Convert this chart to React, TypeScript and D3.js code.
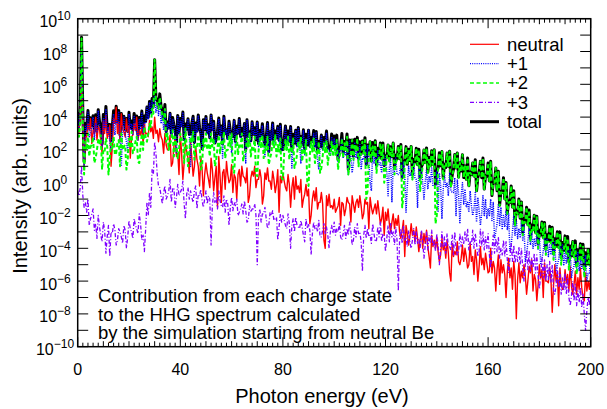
import React from 'react';
import * as d3 from 'd3';

const W = 607;
const H = 409;
const M = { left: 77.7, right: 590.7, top: 18.7, bottom: 346.7 };

// photon energy grids (eV): integer and half-integer samples
const energyInt = d3.range(0, 201, 1);
const energyHalf = d3.range(0.5, 200, 1);

// log10 intensities, at integer eV
const neutralInt = [
  3.5, 4.2, 3.8, 2.8, 3.6, 3.9, 3.2, 4.0, 3.4, 2.6, 3.8, 4.1, 3.0, 1.0, 3.9, 4.6, 3.7, 4.2, 3.1, 3.9, 3.5, 2.8, 3.6, 4.0, 3.2, 3.4,
  3.6, 3.0, 3.8, 3.4, 4.0, 3.2, 3.3, 2.6, 3.0, 2.0,
  2.9, 1.2, 2.7, 1.8, 3.0, 0.2, 2.4, 1.5, 2.5, 0.4, 2.2, 1.0, 1.6, -0.8, 1.2,
  0.2, 1.5, -0.5, 1.0, 1.6, -1.2, 0.8, 1.3, 0.0, 1.1, 0.5, -1.0, 0.8, 1.0, 0.3, 0.9, -0.8, 0.7, 1.0, 0.2, 0.8, -1.3, 0.6, 0.9, 0.1, 0.7, -0.6, 0.8, 0.4, 0.6, -0.3, 0.5, -1.5, 0.3, 0.4,
  -0.2, 0.2, -1.0, -0.1, -0.4, -2.0, -0.5, -0.3, -1.2, -0.6, -3.5, -0.8, -0.7, -1.4, -1.0,
  -1.6, -0.9, -1.2, -2.0, -0.9, -1.3, -0.8, -1.8, -1.0, -0.8, -2.2, -1.0, -1.2, -0.9, -1.9, -1.3, -1.1, -2.5, -1.5, -1.8,
  -1.6, -3.0, -1.9, -2.2, -2.0, -3.4, -2.3, -2.6, -3.8, -2.5, -2.9, -2.7, -4.2, -3.0, -3.1, -2.9, -4.5, -3.2, -3.5, -3.3,
  -4.8, -3.4, -3.8, -3.5, -5.5, -3.7, -4.2, -3.6, -5.0, -3.8,
  -4.0, -5.2, -3.7, -4.5, -4.1, -6.0, -3.9, -4.6, -4.3, -5.5, -4.0, -4.8, -6.6, -4.4, -4.7, -5.0, -7.0, -4.6, -5.2, -4.8,
  -8.3, -4.9, -5.4, -5.0, -6.8, -5.1, -4.7, -5.6, -7.2, -5.0, -5.3, -4.9, -6.0, -5.2, -7.9, -5.0, -5.5, -5.2, -6.5, -5.3,
  -5.6, -5.1, -6.8, -5.4, -5.8, -5.2, -7.0, -5.5, -6.0, -5.6,
];
// at half-integer eV
const neutralHalf = [
  3.0, 6.5,
  0.8, 2.8, 3.2, 2.4, 3.0, 2.6, 3.3, 1.8, 3.0, 2.7, 3.5, 2.2, 3.6, 3.0, 2.5, 3.3, 2.8, 3.1, 1.5, 2.9, 3.2, 2.6, 2.9, 2.4, 3.0, 2.8, 3.1, 2.7,
  3.0, 2.5, 2.8, 1.8, 2.3, 2.0, 1.0, 2.2, 1.6, 0.5, 1.8, 1.2, 1.9, 0.6, 1.5, 1.0, 1.4, -0.2, 0.8, 0.5,
  0.6, -0.3, 0.8, 0.3, -1.5, 0.4, 0.6, -0.4, 0.5, 0.2, -0.6, 0.3, 0.5, -0.2, 0.4, 0.0, -1.2, 0.3, 0.4, -0.3,
  0.2, 0.3, -0.8, 0.2, 0.1, -0.4, 0.2, -0.1, -1.8, 0.0, 0.1, -0.5, -0.1, -0.3, -1.0, -0.4, -0.6, -1.5, -0.7, -0.8,
  -2.5, -1.0, -1.1, -1.6, -1.2, -1.3, -4.0, -1.4, -1.5, -1.6,
  -1.8, -1.4, -2.6, -1.3, -1.6, -1.2, -2.4, -1.3, -1.2, -1.5, -1.4, -1.9, -1.3, -2.8, -1.5, -1.6, -1.9, -1.8, -2.2, -3.2,
  -2.3, -2.5, -2.4, -2.8, -2.6, -3.0, -2.9, -4.5, -3.1, -3.3, -3.2, -3.6, -3.4, -3.5, -4.0, -3.7, -3.9, -5.2, -3.9, -4.0,
  -4.2, -4.4, -4.1, -4.6, -4.3, -6.0, -4.5, -4.4, -4.8, -4.6,
  -4.8, -4.5, -5.0, -4.8, -5.6, -4.7, -5.1, -5.0, -5.3, -4.9, -5.4, -5.5, -5.2, -5.3, -6.2, -5.5, -5.6, -5.4, -5.8, -6.5,
  -5.6, -5.9, -6.1, -5.8, -5.7, -6.0, -5.5, -6.6, -5.9, -6.2, -5.8, -7.0, -6.0, -6.1, -5.9, -6.3, -6.0, -7.5, -6.2, -6.4,
  -6.1, -6.6, -6.3, -6.2, -6.8, -6.5, -6.4, -7.2, -6.6, -6.5,
];

const plus1Int = [
  4.2, 4.5, 4.1, 3.5, 4.3, 3.0, 4.0, 3.6, 4.4, 3.2, 3.9, 4.5, 3.4, 2.0, 4.2, 3.8, 4.3, 1.0, 4.0, 2.5, 4.2, 3.6, 4.1, 3.0, 3.9,
  4.3, 3.7, 4.6, 4.9, 5.0, 5.3, 4.8, 5.0, 4.2, 4.4,
  3.6, 4.2, 3.9, 2.5, 4.1, 3.8, 4.3, 3.2, 3.9, 1.0, 4.0, 3.6, 4.1, 3.0, 3.8, 4.0,
  3.5, 4.1, 3.7, 2.6, 3.9, 3.4, 4.0, 3.2, 3.7, 1.8, 3.8, 3.3, 3.9, 3.0, 3.6, 3.8, 2.4, 3.7, 3.2, 3.7,
  3.0, 3.5, 1.6, 3.6, 3.1, 3.6, 2.8, 3.4, 3.5, 2.0, 3.4, 2.9, 3.4, 2.6, 3.2, 3.3, 1.2, 3.2, 2.7, 3.2,
  2.4, 3.0, 3.1, 0.8, 2.9, 2.5, 3.0, 2.0, 2.8, 2.7,
  2.6, 2.0, 2.7, 1.9, 2.5, 2.6, 0.6, 2.4, 1.9, 2.4, 1.5, 2.2, 2.3, 0.0, 2.1, 1.6, 2.0, 1.2, 1.8, 1.6,
  -0.8, 1.5, 1.0, 1.5, 0.5, 1.2, 1.3, -1.8, 1.0, 0.6, 1.2, 0.2, 1.0, 0.9, -1.0, 0.8, 0.4, 0.9, -0.2, 0.7,
  0.6, -2.2, 0.5, 0.0, 0.6, -0.6, 0.3, 0.2, -2.5, 0.0,
  -0.4, -1.2, -0.5, -2.0, -0.6, -0.9, -2.6, -0.8, -1.0, -1.6, -1.0, -1.2, -3.0, -1.3, -1.5, -2.0, -1.7, -1.9, -3.8, -2.0,
  -2.3, -2.8, -2.4, -2.6, -4.5, -2.8, -3.0, -3.4, -3.0, -3.2, -4.6, -3.3, -3.4, -3.8, -3.5, -3.6, -5.0, -3.7, -3.8, -4.2,
  -3.9, -4.0, -5.3, -4.1, -4.2, -4.6, -4.3, -4.4, -5.5, -4.5,
];
const plus1Half = [
  3.3, 8.0,
  1.0, 3.2, 2.8, 3.4, 2.6, 3.1, 3.5, 2.2, 3.3, 3.0, 2.5, 3.4, 2.9, 3.6, 2.7, 3.2, 3.0, 1.8, 3.3, 2.9, 3.5, 2.6, 3.3, 3.0, 3.6, 3.9, 4.2, 4.5,
  4.3, 4.1, 3.6, 3.2, 2.9, 3.3, 2.8, 3.5, 1.8, 3.0, 3.4, 2.6, 3.2, 2.9, 3.6, 2.4, 3.1, 3.3, 2.0, 3.2,
  3.0, 2.7, 3.2, 2.4, 3.1, 2.9, 1.5, 3.0, 2.6, 3.1, 2.8, 2.3, 3.0, 2.7, 2.9, 1.2, 2.8, 2.5, 2.9, 2.6,
  2.2, 2.8, 2.6, 2.7, 1.8, 2.6, 2.4, 2.7, 2.5, 2.0, 2.6, 2.3, 2.5, 0.9, 2.4, 2.2, 2.5, 2.3, 1.7, 2.3,
  2.1, 2.4, 2.2, 1.4, 2.2, 2.0, 2.3, 2.1, 1.6, 2.0,
  1.8, 1.3, 1.9, 1.5, 1.7, 0.5, 1.6, 1.2, 1.5, 1.3, 0.8, 1.4, 1.1, 1.3, -0.5, 1.2, 0.9, 1.1, 0.6, 1.0,
  0.7, 0.9, -1.2, 0.7, 0.5, 0.6, 0.3, 0.5, -0.2, 0.4, 0.2, 0.3, -1.5, 0.2, 0.0, 0.1, -0.4, 0.0, -0.2, -0.1,
  -1.8, -0.2, -0.4, -0.3, -0.8, -0.5, -0.6, -2.0, -0.7, -0.8,
  -1.3, -1.5, -1.8, -1.4, -1.6, -2.4, -1.7, -1.9, -2.0, -2.2, -2.0, -2.3, -3.4, -2.5, -2.6, -2.8, -2.7, -2.9, -4.2, -3.0,
  -3.2, -3.4, -3.3, -3.5, -4.8, -3.6, -3.8, -4.0, -3.9, -4.1, -5.0, -4.2, -4.3, -4.5, -4.4, -4.6, -5.4, -4.7, -4.8, -5.0,
  -4.9, -5.0, -5.8, -5.1, -5.2, -5.4, -5.3, -5.4, -6.0, -5.5,
];

const plus2Int = [
  3.3, 3.6, 3.2, 2.5, 3.0, 2.2, 2.8, 1.5, 2.6, 2.9, 2.0, 2.7, 0.5, 2.4, 2.8, 1.8, 2.6, 3.0, 2.2, 0.8, 2.7, 3.1, 2.0, 2.8, 1.2,
  3.0, 3.4, 2.5, 3.6, 4.5, 7.5, 4.8, 5.2, 4.0, 4.5,
  3.0, 2.4, 3.2, 2.8, 1.5, 3.0, 2.6, 3.3, 1.0, 2.8, 3.1, 2.2, 2.9, 0.8, 2.7, 3.0,
  2.4, 3.0, 2.7, 1.4, 2.9, 2.5, 3.1, 2.0, 2.8, 3.0, 0.6, 2.9, 2.4, 3.0, 1.8, 2.7, 3.0, 2.2, 2.8, 0.4,
  2.7, 2.9, 2.2, 2.8, 1.5, 2.6, 2.9, 2.3, 2.7, 0.2, 2.6, 2.8, 2.1, 2.7, 1.2, 2.5, 2.8, 2.0, 2.6, -0.2,
  2.5, 2.7, 1.9, 2.5, 0.9, 2.4, 2.6, 1.8, 2.5, 2.3,
  2.6, 1.5, 2.7, 2.4, 2.8, 1.0, 2.6, 2.3, 2.7, 1.8, 2.5, 2.6, -0.5, 2.5, 2.2, 2.5, 1.4, 2.4, 2.3, 0.6,
  2.3, 2.1, 2.4, 1.2, 2.2, 2.3, -0.8, 2.2, 2.0, 2.2, 1.0, 2.1, 2.0, 0.2, 2.0, 2.1, 1.5, 1.9, 2.0, -2.0,
  1.8, 1.9, 1.0, 1.8, 1.9, 0.4, 1.7, 1.8, 1.2, 1.7,
  1.0, 1.5, 0.6, 1.2, 1.4, 0.3, 1.3, 1.5, 0.4, 1.2, 1.3, 0.0, 0.9, 0.7, -0.6, 0.3, 0.0, -1.2, -0.2, -0.5,
  -1.8, -1.0, -1.2, -2.4, -1.5, -1.7, -2.8, -2.0, -2.1, -3.2, -2.4, -2.5, -3.6, -2.7, -2.8, -3.9, -3.0, -3.1, -4.2, -3.3,
  -3.4, -4.5, -3.6, -3.7, -4.8, -3.8, -3.9, -5.0, -4.1, -4.2,
];
const plus2Half = [
  2.8, 8.8,
  0.5, 2.0, 1.6, 2.3, 1.2, 2.0, 2.4, 0.8, 1.9, 2.2, 1.5, 2.1, 1.7, 2.4, 1.0, 2.0, 2.3, 1.4, 2.1, 1.8, 2.5, 1.3, 2.2, 2.0, 2.7, 3.0, 3.4, 4.2,
  5.0, 4.5, 4.6, 3.8, 2.5, 2.0, 2.6, 1.6, 2.3, 2.0, 2.6, 1.2, 2.2, 1.9, 2.5, 1.4, 2.1, 2.4, 1.0, 2.2,
  2.0, 1.6, 2.2, 1.0, 2.1, 1.8, 2.3, 1.5, 2.0, 2.2, 0.8, 2.1, 1.7, 2.2, 1.3, 1.9, 2.2, 1.6, 2.0, 0.5,
  1.9, 2.1, 1.5, 2.0, 1.1, 1.8, 2.1, 1.6, 1.9, 0.3, 1.8, 2.0, 1.4, 1.9, 0.9, 1.7, 2.0, 1.3, 1.8, 0.0,
  1.7, 1.9, 1.2, 1.7, 0.6, 1.6, 1.8, 1.1, 1.7, 1.6,
  1.7, 0.8, 1.9, 1.5, 2.0, 0.5, 1.8, 1.4, 1.9, 1.0, 1.7, 1.8, -1.0, 1.7, 1.3, 1.6, 0.6, 1.5, 1.4, 0.0,
  1.5, 1.2, 1.6, 0.5, 1.4, 1.4, -1.5, 1.3, 1.1, 1.3, 0.2, 1.2, 1.1, -0.5, 1.1, 1.2, 0.6, 1.0, 1.1, -2.5,
  0.9, 1.0, 0.2, 0.9, 1.0, -0.3, 0.8, 0.9, 0.3, 0.7,
  0.3, 0.2, -0.2, 0.5, 0.4, -0.5, 0.6, 0.3, -0.4, 0.4, 0.1, -0.8, 0.0, -0.5, -1.4, -0.6, -1.0, -1.9, -1.2, -1.5,
  -2.6, -1.9, -2.2, -3.2, -2.4, -2.6, -3.6, -2.9, -3.1, -4.0, -3.2, -3.4, -4.4, -3.6, -3.7, -4.7, -3.9, -4.0, -5.0, -4.2,
  -4.3, -5.3, -4.5, -4.6, -5.6, -4.7, -4.8, -5.8, -5.0, -5.1,
];

const plus3Int = [
  -0.5, -0.3, -0.8, -1.2, -1.0, -2.2, -1.6, -2.5, -2.0, -3.2, -2.4, -4.3, -2.6, -3.0, -2.5, -3.8, -2.8, -3.3, -2.6, -4.0,
  -2.3, -3.0, -2.2, -2.8, -1.9, -3.5, -4.2, -1.2, -0.6, 0.8, 2.5, 0.5, -0.3, -1.3, -0.2,
  -0.8, 0.2, -0.4, -1.5, -0.1, -0.6, 0.1, -2.2, -0.3, -0.5, -1.2, -0.2, -0.7, -0.4, -1.5, -0.5, -0.8, -3.8, -0.6, -0.9,
  -0.5, -1.4, -0.8, -1.0, -2.6, -0.9,
  -1.2, -1.0, -1.8, -1.3, -1.1, -2.4, -1.4, -1.6, -1.3, -5.0, -1.6, -1.9, -1.5, -2.8, -1.8, -1.7, -2.2, -3.5, -1.9, -2.0,
  -2.6, -1.9, -4.0, -2.2, -2.1, -2.7, -2.3, -3.2, -2.2, -2.5, -4.4, -2.4, -2.6, -2.3, -3.3, -2.5, -2.7, -4.0, -2.6, -2.4,
  -2.8, -2.5, -3.5, -2.6, -2.8, -2.4, -3.8, -2.7, -2.5, -3.0, -5.4, -2.6, -2.8, -3.2, -2.5, -3.6, -2.7, -2.4, -3.1, -4.2,
  -2.6, -2.5, -3.0, -2.7, -6.6, -2.8, -2.6, -3.3, -2.9, -4.0, -2.8, -3.0, -3.4, -2.9, -4.6, -3.0, -3.2, -2.9, -3.6, -3.1,
  -5.0, -3.0, -3.3, -3.1, -3.9, -3.2, -3.0, -4.4, -3.1, -3.3,
  -3.0, -2.8, -3.6, -2.9, -3.1, -4.5, -2.8, -3.0, -3.3, -3.1, -5.2, -3.2, -3.4, -3.3, -4.0, -3.5, -3.6, -5.5, -3.7, -3.8,
  -4.2, -3.9, -4.0, -6.0, -4.1, -4.2, -4.6, -4.3, -4.4, -6.5, -4.6, -4.7, -5.0, -4.8, -5.0, -6.8, -5.2, -5.4, -5.8, -5.5,
  -5.8, -7.5, -6.0, -6.2, -6.6, -6.4, -6.8, -9.0, -7.0, -6.5,
];
const plus3Half = [
  -0.8, 1.0,
  -1.5, -1.8, -2.6, -1.9, -2.9, -3.4, -2.7, -3.6, -2.9, -3.3, -4.5, -3.1, -2.9, -3.5, -3.0, -3.7, -2.9, -3.3, -2.8, -3.4, -2.6, -3.1, -2.5, -3.2, -2.8, -2.0, -1.5, 0.5,
  1.8, -0.2, -0.8, -0.6, -1.0, -0.5, -1.2, -0.3, -0.9, -0.8, -0.4, -1.3, -0.7, -1.0, -0.9, -0.5, -1.6, -0.8, -1.1, -1.0,
  -1.3, -1.0, -1.4, -1.2, -1.6, -1.1, -1.5, -1.8, -1.3, -1.5, -1.7, -1.4, -2.0, -1.6, -1.9, -1.7, -2.3, -1.8, -1.6, -2.0,
  -2.1, -2.4, -1.9, -2.2, -2.6, -2.0, -2.3, -2.1, -2.7, -2.4, -2.3, -2.8, -2.5, -2.6, -3.0, -2.6, -2.8, -2.7, -3.6, -2.8,
  -2.9, -3.1, -2.8, -3.0, -3.3, -2.9, -3.1, -3.2, -3.0, -3.1,
  -3.2, -3.0, -3.3, -3.1, -3.4, -3.2, -3.0, -3.5, -3.3, -3.1, -3.6, -3.2, -3.4, -3.3, -3.7, -3.1, -3.5, -3.3, -3.6, -3.2,
  -3.4, -3.6, -3.3, -3.8, -3.5, -3.4, -3.7, -3.5, -3.9, -3.6, -3.5, -3.8, -3.7, -4.0, -3.6, -3.8, -4.1, -3.7, -3.9, -4.2,
  -3.8, -4.0, -3.9, -4.3, -3.9, -4.1, -4.4, -4.0, -4.2, -3.9,
  -3.7, -3.6, -4.1, -3.8, -4.0, -3.7, -4.2, -3.9, -4.1, -4.0, -4.4, -4.1, -4.3, -4.2, -4.6, -4.4, -4.5, -4.7, -4.6, -4.8,
  -4.9, -4.8, -5.0, -5.2, -5.0, -5.3, -5.4, -5.2, -5.5, -5.7, -5.6, -5.8, -6.0, -5.9, -6.1, -6.5, -6.3, -6.4, -6.8, -6.6,
  -6.8, -7.0, -6.9, -7.2, -7.5, -7.3, -7.6, -8.0, -7.8, -7.5,
];

const xTickValues = [0, 40, 80, 120, 160, 200];
const yTickExponents = [10, 8, 6, 4, 2, 0, -2, -4, -6, -8, -10];
const legendNames = ['neutral', '+1', '+2', '+3', 'total'];
const annotationLines = [
  'Contribution from each charge state',
  'to the HHG spectrum calculated',
  'by the simulation starting from neutral Be',
];

const FONT = '"Liberation Sans", Arial, Helvetica, sans-serif';

const styles: Record<string, { stroke: string; width: number; dash?: string }> = {
  neutral: { stroke: '#ff0000', width: 1.4 },
  '+1': { stroke: '#0000ff', width: 1.5, dash: '1,1.2' },
  '+2': { stroke: '#00ff00', width: 2, dash: '4,2.5' },
  '+3': { stroke: '#8000ff', width: 1.3, dash: '4,2,1,2' },
  total: { stroke: '#000000', width: 3 },
};

type Pt = { e: number; v: number };

function merge(intLog: number[], halfLog: number[]): Pt[] {
  const pts: Pt[] = [];
  energyInt.forEach((e, i) => pts.push({ e, v: Math.pow(10, intLog[i]) }));
  energyHalf.forEach((e, i) => pts.push({ e, v: Math.pow(10, halfLog[i]) }));
  pts.sort((a, b) => a.e - b.e);
  return pts;
}

export default function App() {
  const x = d3.scaleLinear().domain([0, 200]).range([M.left, M.right]);
  const y = d3.scaleLog().domain([1e-10, 1e10]).range([M.bottom, M.top]);

  const neutral = merge(neutralInt, neutralHalf);
  const p1 = merge(plus1Int, plus1Half);
  const p2 = merge(plus2Int, plus2Half);
  const p3 = merge(plus3Int, plus3Half);
  const total: Pt[] = neutral.map((p, i) => ({ e: p.e, v: p.v + p1[i].v + p2[i].v + p3[i].v }));

  const line = d3
    .line<Pt>()
    .x((d) => x(d.e))
    .y((d) => y(d.v));

  const series: [string, Pt[]][] = [
    ['total', total],
    ['neutral', neutral],
    ['+1', p1],
    ['+2', p2],
    ['+3', p3],
  ];

  const xMinor = d3.range(0, 201, 2);
  const yDecades = d3.range(-10, 11, 1);

  return (
    <svg
      width={W}
      height={H}
      style={{ position: 'absolute', left: 0, top: 0, background: '#fff' }}
      fontFamily={FONT}
    >
      <defs>
        <clipPath id="plotClip">
          <rect x={M.left} y={M.top} width={M.right - M.left} height={M.bottom - M.top} />
        </clipPath>
      </defs>
      <rect x={0} y={0} width={W} height={H} fill="#fff" />

      <g clipPath="url(#plotClip)">
        {series.map(([name, vals]) => {
          const s = styles[name];
          return (
            <path
              key={name}
              d={line(vals) || ''}
              fill="none"
              stroke={s.stroke}
              strokeWidth={s.width}
              strokeDasharray={s.dash}
              strokeLinejoin="round"
            />
          );
        })}
      </g>

      <rect
        x={M.left}
        y={M.top}
        width={M.right - M.left}
        height={M.bottom - M.top}
        fill="none"
        stroke="#000"
        strokeWidth={1.5}
      />

      {xMinor.map((e) => {
        const len = e % 40 === 0 ? 9.5 : e % 10 === 0 ? 5.5 : 4;
        const px = x(e);
        return (
          <g key={'xt' + e} stroke="#000" strokeWidth={1}>
            <line x1={px} x2={px} y1={M.bottom} y2={M.bottom - len} />
            <line x1={px} x2={px} y1={M.top} y2={M.top + len} />
          </g>
        );
      })}
      {yDecades.map((k) => {
        const py = y(Math.pow(10, k));
        return (
          <g key={'yt' + k} stroke="#000" strokeWidth={1}>
            <line x1={M.left} x2={M.left + 10.5} y1={py} y2={py} />
            <line x1={M.right} x2={M.right - 10.5} y1={py} y2={py} />
          </g>
        );
      })}

      {xTickValues.map((v) => (
        <text key={'xl' + v} x={x(v)} y={375} fontSize={16} textAnchor="middle" fill="#000">
          {v}
        </text>
      ))}
      {yTickExponents.map((k) => {
        const py = y(Math.pow(10, k));
        return (
          <text key={'yl' + k} x={55} y={py + 8.5} fontSize={16} textAnchor="middle" fill="#000">
            10
            <tspan fontSize={12} dy={-7}>
              {k < 0 ? '\u2212' + Math.abs(k) : String(k)}
            </tspan>
          </text>
        );
      })}

      <text x={322} y={403} fontSize={20} textAnchor="middle" fill="#000">
        Photon energy (eV)
      </text>
      <text transform={`translate(26.5,186) rotate(-90)`} fontSize={20} textAnchor="middle" fill="#000">
        Intensity (arb. units)
      </text>

      {legendNames.map((n, i) => {
        const ly = 44.3 + i * 19.35;
        const s = styles[n];
        return (
          <g key={'lg' + n}>
            <line
              x1={470}
              x2={499}
              y1={ly}
              y2={ly}
              stroke={s.stroke}
              strokeWidth={n === 'total' ? 3 : n === '+2' ? 1.5 : 1.2}
              strokeDasharray={s.dash}
            />
            <text x={507} y={ly + 6.3} fontSize={18.5} fill="#000">
              {n}
            </text>
          </g>
        );
      })}

      {annotationLines.map((t, i) => (
        <text key={'an' + i} x={98} y={302 + i * 18.5} fontSize={18.5} fill="#000">
          {t}
        </text>
      ))}
    </svg>
  );
}
